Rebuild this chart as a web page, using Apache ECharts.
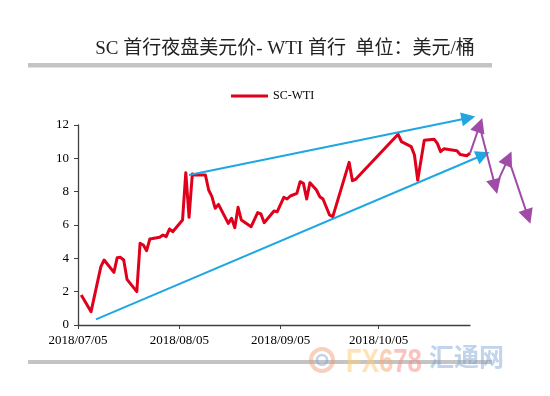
<!DOCTYPE html>
<html>
<head>
<meta charset="utf-8">
<script src="https://cdn.jsdelivr.net/npm/echarts@6/dist/echarts.min.js"></script>
<style>
html,body{margin:0;padding:0;background:#fff;}
#chart{width:550px;height:396px;}
</style>
</head>
<body>
<div id="chart"></div>
<script>
// ---- data ----
const dates = [
  '2018-07-06','2018-07-09','2018-07-12','2018-07-13','2018-07-16','2018-07-17','2018-07-18','2018-07-19','2018-07-20',
  '2018-07-23','2018-07-24','2018-07-25','2018-07-26','2018-07-27','2018-07-30','2018-07-31','2018-08-01','2018-08-02','2018-08-03',
  '2018-08-06','2018-08-07','2018-08-08','2018-08-09','2018-08-10','2018-08-13','2018-08-14','2018-08-15','2018-08-16','2018-08-17',
  '2018-08-20','2018-08-21','2018-08-22','2018-08-23','2018-08-24','2018-08-27','2018-08-29','2018-08-30','2018-08-31',
  '2018-09-03','2018-09-04','2018-09-06','2018-09-07','2018-09-08','2018-09-10','2018-09-11','2018-09-12','2018-09-13','2018-09-14',
  '2018-09-16','2018-09-17','2018-09-18','2018-09-20','2018-09-21','2018-09-26','2018-09-27','2018-09-28',
  '2018-10-11','2018-10-12','2018-10-15','2018-10-16','2018-10-17','2018-10-19','2018-10-22','2018-10-23','2018-10-24','2018-10-25',
  '2018-10-29','2018-10-30','2018-11-01','2018-11-02'
];
const scWti = [
  1.8,0.8,3.5,3.9,3.16,4.04,4.06,3.9,2.74,
  2.0,4.9,4.8,4.46,5.16,5.26,5.4,5.3,5.76,5.6,
  6.3,9.14,6.46,9.06,9.0,9.0,8.1,7.7,7.0,7.24,
  6.1,6.4,5.84,7.06,6.3,5.9,6.74,6.66,6.14,
  6.84,6.8,7.66,7.56,7.74,7.9,8.6,8.5,7.56,8.54,
  8.1,7.7,7.56,6.6,6.5,9.76,8.66,8.74,
  11.44,11.0,10.7,10.2,8.68,11.08,11.15,10.9,10.4,10.57,
  10.46,10.23,10.16,10.3
];
const xTickDates = ['2018-07-05','2018-08-05','2018-09-05','2018-10-05'];
const xMin = '2018-07-05';
const xMax = '2018-11-02';
const yTicks = [0, 12, 2]; // min, max, interval
const seriesName = 'SC-WTI';
const titleText = 'SC 首行夜盘美元价- WTI 首行  单位：美元/桶';

// annotation arrows (data coordinates: date, value)
const blueArrows = [
  [['2018-08-08 00:00', 9.0], ['2018-11-01 12:00', 12.42]],
  [['2018-07-10 12:00', 0.34], ['2018-11-06 00:00', 10.2]]
];
const purpleArrows = [
  [['2018-11-02 00:00', 10.3], ['2018-11-05 00:00', 12.0]],
  [['2018-11-05 06:00', 11.7], ['2018-11-09 18:00', 8.3]],
  [['2018-11-09 18:00', 8.3], ['2018-11-13 18:00', 10.0]],
  [['2018-11-14 06:00', 9.7], ['2018-11-19 18:00', 6.5]]
];

// ---- build ----
const T = s => +echarts.time.parse(s);
const lineData = dates.map((d, i) => [T(d), scWti[i]]);
const toLines = arr => arr.map(seg => ({ coords: seg.map(p => [T(p[0]), p[1]]) }));

const serif = "'Liberation Serif','Times New Roman','Noto Sans CJK SC',serif";
const chart = echarts.init(document.getElementById('chart'), null, { renderer: 'canvas' });

chart.setOption({
  animation: false,
  backgroundColor: '#fff',
  grid: { left: 78, right: 80, top: 125, bottom: 71, containLabel: false },
  legend: {
    data: [seriesName],
    left: 226, top: 85,
    icon: 'rect',
    itemWidth: 37, itemHeight: 3, itemGap: 4,
    textStyle: { fontFamily: serif, fontSize: 12, color: '#000' }
  },
  xAxis: {
    type: 'value',
    min: T(xMin), max: T(xMax),
    axisLine: { show: true, lineStyle: { color: '#404040', width: 1.3 } },
    axisTick: { show: true, length: 4, inside: false, customValues: xTickDates.map(T), lineStyle: { color: '#404040' } },
    axisLabel: {
      customValues: xTickDates.map(T),
      formatter: v => echarts.time.format(v, '{yyyy}/{MM}/{dd}', false),
      fontFamily: serif, fontSize: 13, color: '#000', margin: 9,
      hideOverlap: false
    },
    splitLine: { show: false }, minorTick: { show: false }
  },
  yAxis: {
    type: 'value',
    min: yTicks[0], max: yTicks[1], interval: yTicks[2],
    axisLine: { show: true, lineStyle: { color: '#404040', width: 1.3 } },
    axisTick: { show: true, length: 4, inside: false, lineStyle: { color: '#404040' } },
    axisLabel: { fontFamily: serif, fontSize: 13, color: '#000', margin: 9 },
    splitLine: { show: false }
  },
  series: [
    {
      name: seriesName, type: 'line', data: lineData,
      symbol: 'none', showSymbol: false, z: 3,
      lineStyle: { color: '#E0001B', width: 3, join: 'round' },
      itemStyle: { color: '#E0001B' }
    },
    {
      type: 'lines', coordinateSystem: 'cartesian2d', clip: false, z: 4,
      data: toLines(blueArrows),
      symbol: ['none', 'triangle'], symbolSize: 14,
      lineStyle: { color: '#1EA7E1', width: 2, opacity: 1, curveness: 0 },
      silent: true
    },
    {
      type: 'lines', coordinateSystem: 'cartesian2d', clip: false, z: 4,
      data: toLines(purpleArrows),
      symbol: ['none', 'triangle'], symbolSize: 15,
      lineStyle: { color: '#A04BA8', width: 2, opacity: 1, curveness: 0 },
      silent: true
    }
  ],
  graphic: [
    { type: 'text', x: 285, y: 49, z: 10,
      style: { text: titleText, font: "19px " + serif, fill: '#222', align: 'center', verticalAlign: 'middle' } },
    { type: 'rect', shape: { x: 28, y: 63, width: 464, height: 4.5 }, style: { fill: '#C4C4C4' }, z: 1 },
    { type: 'rect', shape: { x: 28, y: 360, width: 464, height: 4 }, style: { fill: '#C4C4C4' }, z: 1 },
    { type: 'circle', shape: { cx: 322, cy: 360, r: 11 }, style: { fill: 'none', stroke: 'rgba(240,150,110,0.45)', lineWidth: 4 }, z: 20 },
    { type: 'circle', shape: { cx: 322, cy: 360, r: 5 }, style: { fill: 'none', stroke: 'rgba(120,160,215,0.45)', lineWidth: 2.5 }, z: 20 },
    { type: 'text', x: 346, y: 346, scaleX: 0.78, z: 20,
      style: { text: '{a|FX}{b|6}{c|78}', font: "bold 33px 'Liberation Sans',sans-serif", align: 'left', verticalAlign: 'top',
        rich: {
          a: { fill: 'rgba(253,205,120,0.55)', font: "bold 33px 'Liberation Sans',sans-serif" },
          b: { fill: 'rgba(250,170,120,0.55)', font: "bold 33px 'Liberation Sans',sans-serif" },
          c: { fill: 'rgba(245,135,130,0.5)', font: "bold 33px 'Liberation Sans',sans-serif" }
        } } },
    { type: 'text', x: 429, y: 344, z: 20,
      style: { text: '汇通网', font: "bold 25px 'Noto Sans CJK SC',sans-serif", align: 'left', verticalAlign: 'top',
        fill: 'rgba(120,160,210,0.45)' } }
  ]
});
</script>
</body>
</html>
